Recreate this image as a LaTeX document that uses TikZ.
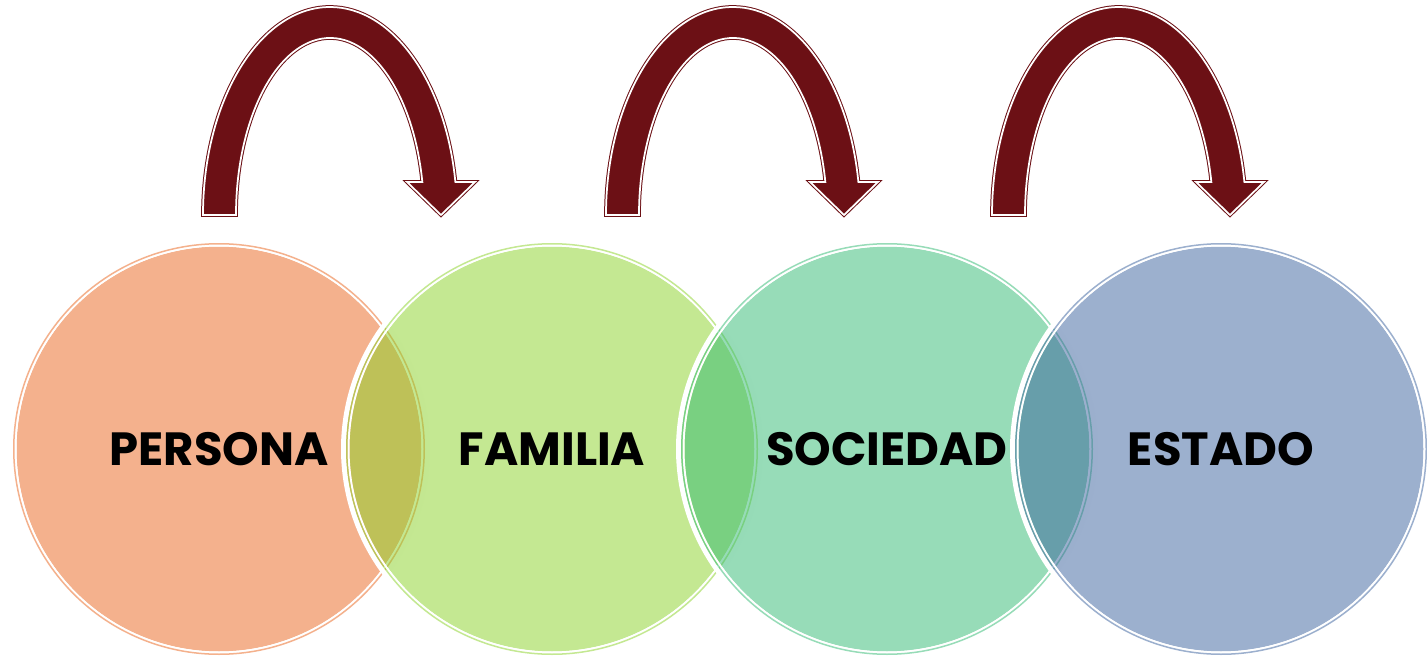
\documentclass[tikz,border=0pt]{standalone}
\usepackage{fontspec}
\setmainfont{Poppins}
\usetikzlibrary{positioning}
\definecolor{persona color}{HTML}{E9631B}
\definecolor{familia color}{HTML}{89D125}
\definecolor{sociedad color}{HTML}{2FB971}
\definecolor{estado color}{HTML}{39619D}
\definecolor{arrow red}{HTML}{6C1015}

\begin{document}
\begin{tikzpicture}[x=0.02cm, y=0.02cm,
    venn text/.style={font=\fontsize{26.5}{32}\selectfont\bfseries, text=black, inner sep=0pt},
    bent arrow/.style={fill=arrow red, draw=arrow red, double=white, double distance=0.035cm, line width=0.02cm, line join=miter}
]
    \useasboundingbox (0,0) rectangle (1427,657);

    \foreach \i/\x/\col/\txt in {1/219/persona color/PERSONA, 2/552/familia color/FAMILIA, 3/887/sociedad color/SOCIEDAD, 4/1221/estado color/ESTADO} {
        \draw[white, line width=0.1cm] (\x,208) circle (208.5);
        \fill[\col, fill opacity=0.5] (\x,208) circle (202.5);
        \draw[white, line width=0.04cm] (\x,208) circle (203.5);
        \draw[\col, draw opacity=0.5, line width=0.03cm] (\x,208) circle (205.25);
        \node[venn text] (venn \i) at (\x,208) {\txt};
    }

    \foreach \dx in {0,403,789}
        \draw[bent arrow, shift={(\dx,0)}] (203,442)
            arc[start angle=180, end angle=9.15, x radius=127, y radius=208]
            -- (475,475) -- (441,442) -- (407,475) -- (422.35,475)
            arc[start angle=10.74, end angle=180, x radius=94, y radius=177] -- cycle;
\end{tikzpicture}
\end{document}
